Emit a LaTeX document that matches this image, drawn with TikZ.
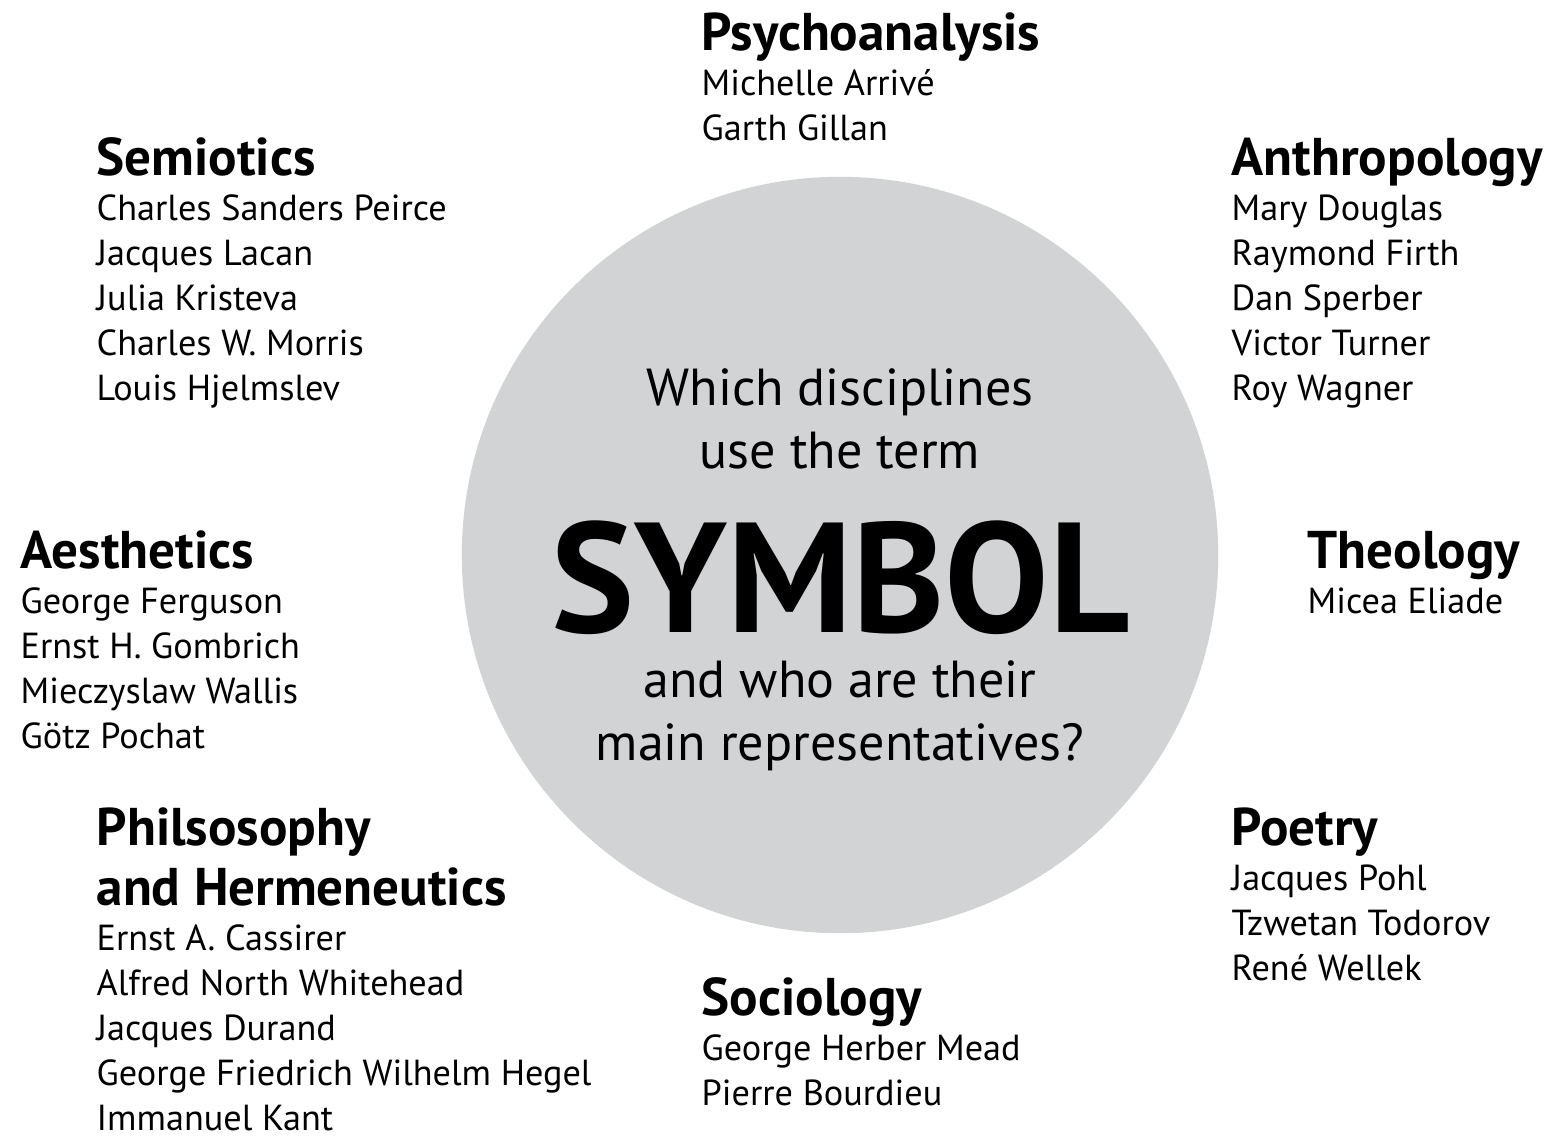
\documentclass[tikz,border=0pt]{standalone}
\usepackage{fontspec}
\setmainfont{PT Sans}
\usetikzlibrary{positioning}
\definecolor{disc-grey}{RGB}{209,211,212}
\tikzset{
  head/.style={anchor=base west, inner sep=0pt, font=\fontsize{15.1}{18}\selectfont\bfseries},
  person/.style={anchor=base west, inner sep=0pt, font=\fontsize{10.3}{13}\selectfont},
  ask/.style={anchor=base, inner sep=0pt, font=\fontsize{14.8}{18}\selectfont},
}

\begin{document}
\begin{tikzpicture}[x=0.01cm, y=-0.01cm]
    \useasboundingbox (0,0) rectangle (1558,1135);

    \node[circle, fill=disc-grey, minimum size=7.56cm, inner sep=0pt] (disc) at (840,555) {};

    % question in the disc
    \node[ask] (ask1) at (840,405) {Which disciplines};
    \node[ask] (ask2) at (840,468) {use the term};
    \node[anchor=base, inner sep=0pt, text depth=0pt, font=\fontsize{44.5}{50}\selectfont\bfseries] (symbol) at (841,632) {SYMBOL};
    \node[ask] (ask3) at (840,697) {and who are their};
    \node[ask] (ask4) at (840,760) {main representatives?};

    % disciplines
    \node[head] (psycho) at (701,50) {Psychoanalysis};
    \foreach \who [count=\i] in {Michelle Arrivé, Garth Gillan}
        \node[person] (psycho-\i) at ([yshift=-\i*0.45cm]psycho.base west) {\who};

    \node[head] (semio) at (96,175) {Semiotics};
    \foreach \who [count=\i] in {Charles Sanders Peirce, Jacques Lacan, Julia Kristeva, Charles W. Morris, Louis Hjelmslev}
        \node[person] (semio-\i) at ([yshift=-\i*0.45cm]semio.base west) {\who};

    \node[head] (anthro) at (1231,175) {Anthropology};
    \foreach \who [count=\i] in {Mary Douglas, Raymond Firth, Dan Sperber, Victor Turner, Roy Wagner}
        \node[person] (anthro-\i) at ([yshift=-\i*0.45cm]anthro.base west) {\who};

    \node[head] (aesth) at (20,568) {Aesthetics};
    \foreach \who [count=\i] in {George Ferguson, Ernst H. Gombrich, Mieczyslaw Wallis, Götz Pochat}
        \node[person] (aesth-\i) at ([yshift=-\i*0.45cm]aesth.base west) {\who};

    \node[head] (theo) at (1307,568) {Theology};
    \node[person] (theo-1) at ([yshift=-0.45cm]theo.base west) {Micea Eliade};

    \node[head] (philo) at (96,845) {Philsosophy};
    \node[head] (herme) at ([yshift=-0.6cm]philo.base west) {and Hermeneutics};
    \foreach \who [count=\i] in {Ernst A. Cassirer, Alfred North Whitehead, Jacques Durand, George Friedrich Wilhelm Hegel, Immanuel Kant}
        \node[person] (philo-\i) at ([yshift=-\i*0.45cm]herme.base west) {\who};

    \node[head] (poetry) at (1231,845) {Poetry};
    \foreach \who [count=\i] in {Jacques Pohl, Tzwetan Todorov, René Wellek}
        \node[person] (poetry-\i) at ([yshift=-\i*0.45cm]poetry.base west) {\who};

    \node[head] (socio) at (701,1015) {Sociology};
    \foreach \who [count=\i] in {George Herber Mead, Pierre Bourdieu}
        \node[person] (socio-\i) at ([yshift=-\i*0.45cm]socio.base west) {\who};
\end{tikzpicture}
\end{document}
